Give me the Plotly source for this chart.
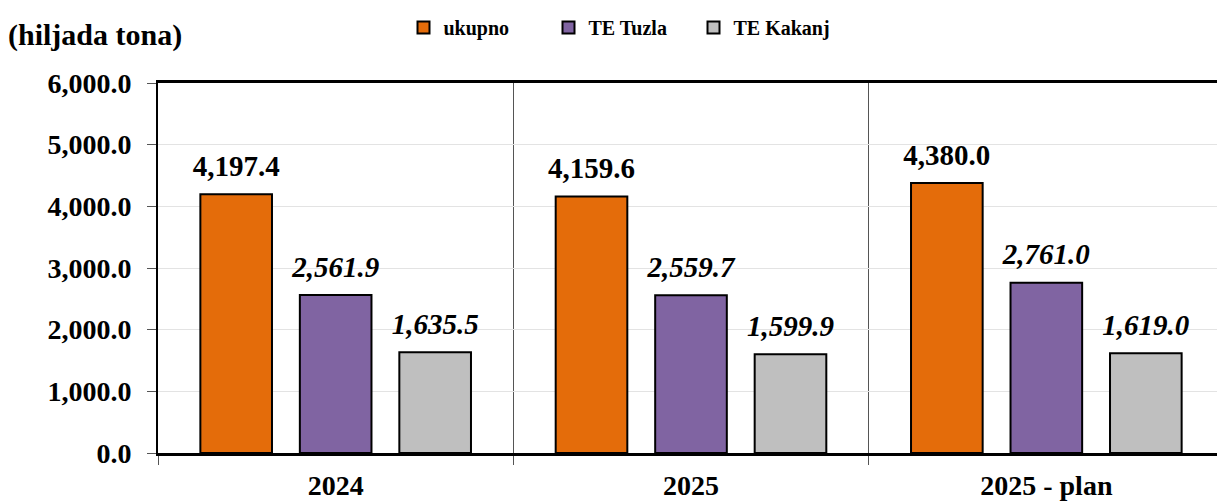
import plotly.graph_objects as go

categories = ["2024", "2025", "2025 - plan"]
ukupno = [4197.4, 4159.6, 4380.0]
te_tuzla = [2561.9, 2559.7, 2761.0]
te_kakanj = [1635.5, 1599.9, 1619.0]
y_ticks = [0, 1000, 2000, 3000, 4000, 5000, 6000]

font_family = "Liberation Serif, Times New Roman, serif"

fig = go.Figure()
series = [
    ("ukupno", ukupno, "#E46C0A", "<b>%{y:,.1f}</b>"),
    ("TE Tuzla", te_tuzla, "#8064A2", "<b><i>%{y:,.1f}</i></b>"),
    ("TE Kakanj", te_kakanj, "#BFBFBF", "<b><i>%{y:,.1f}</i></b>"),
]
for i, (name, vals, color, tmpl) in enumerate(series):
    fig.add_trace(go.Bar(
        name=name, x=categories, y=vals, offsetgroup=str(i),
        marker=dict(color=color, line=dict(color="black", width=2)),
    ))
for i, (name, vals, color, tmpl) in enumerate(series):
    fig.add_trace(go.Scatter(
        x=categories, y=vals, offsetgroup=str(i), showlegend=False,
        mode="markers+text", texttemplate=tmpl, textposition="top center",
        marker=dict(size=16, opacity=0), cliponaxis=False, hoverinfo="skip",
        textfont=dict(family=font_family, size=29, color="black"),
    ))

# page body has an 8px margin, so the figure is 8px smaller and shifted
W, H = 1217, 494
L, R, T, B = 150, 1, 75, 49
plot_w = W - L - R
plot_h = H - T - B
fig.update_layout(
    width=W, height=H,
    margin=dict(l=L, r=R, t=T, b=B),
    paper_bgcolor="white", plot_bgcolor="white",
    barmode="group", bargap=0.16, bargroupgap=0.28,
    scattermode="group", scattergap=0.16,
    font=dict(family=font_family, color="black"),
    showlegend=True,
    legend=dict(orientation="h", x=0.5 - 70 / plot_w, xref="paper", xanchor="center",
                y=1.0, yref="container", yanchor="top",
                font=dict(family=font_family, size=20, color="black", weight="bold"),
                itemwidth=30, traceorder="normal",
                entrywidth=100, entrywidthmode="pixels"),
    xaxis=dict(
        tickson="boundaries", ticks="outside", ticklen=9, tickcolor="#555",
        showgrid=True, gridcolor="#555", gridwidth=1,
        showline=True, linecolor="black", linewidth=3, mirror=True,
        tickfont=dict(family=font_family, size=28, color="black", weight="bold"),
        automargin=False, ticklabelstandoff=5,
    ),
    yaxis=dict(
        range=[0, 6000], tickvals=y_ticks, tickformat=",.1f",
        ticks="outside", ticklen=9, tickcolor="#555",
        showgrid=True, gridcolor="#e3e3e3", gridwidth=1,
        showline=True, linecolor="black", linewidth=2,
        zeroline=False, automargin=False, ticklabelstandoff=10,
        tickfont=dict(family=font_family, size=28, color="black", weight="bold"),
    ),
)
fig.add_annotation(text="<b>(hiljada tona)</b>",
                   x=(-2 - L) / plot_w, y=1 + (T - 27) / plot_h,
                   xref="paper", yref="paper",
                   showarrow=False, xanchor="left", yanchor="middle",
                   font=dict(family=font_family, size=30, color="black"))

fig.write_html("out.html")
